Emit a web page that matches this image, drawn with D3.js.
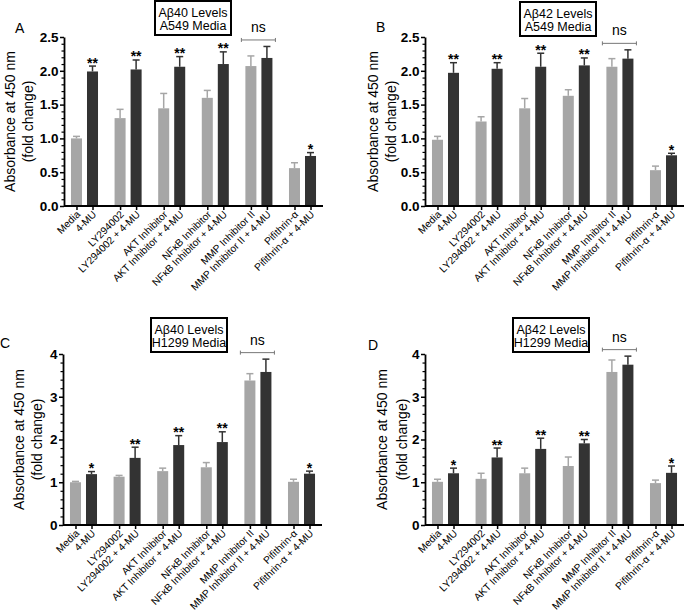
<!DOCTYPE html>
<html><head><meta charset="utf-8">
<script src="https://cdn.jsdelivr.net/npm/d3@7"></script>
<style>body{margin:0;background:#fff}svg{display:block}text{font-family:"Liberation Sans",Arial,sans-serif}</style>
</head><body>
<script>
// ---------- data ----------
const groups = ["Media","LY294002","AKT Inhibitor","NFκB Inhibitor","MMP Inhibitor II","Pifithrin-α"];
const darkLabels = ["4-MU","LY294002 + 4-MU","AKT Inhibitor + 4-MU","NFκB Inhibitor + 4-MU","MMP Inhibitor II + 4-MU","Pifithrin-α + 4-MU"];

const A_gray = [1.00,1.30,1.445,1.60,2.07,0.56];
const A_grayErr = [0.03,0.13,0.22,0.11,0.15,0.08];
const A_dark = [1.99,2.02,2.06,2.10,2.19,0.74];
const A_darkErr = [0.08,0.14,0.15,0.18,0.17,0.05];
const A_sig = ["**","**","**","**","","*"];

const B_gray = [0.98,1.25,1.445,1.63,2.06,0.53];
const B_grayErr = [0.05,0.07,0.145,0.09,0.12,0.06];
const B_dark = [1.97,2.03,2.06,2.08,2.18,0.75];
const B_darkErr = [0.15,0.09,0.20,0.11,0.13,0.03];
const B_sig = ["**","**","**","**","","*"];

const C_gray = [1.00,1.13,1.26,1.35,3.38,1.01];
const C_grayErr = [0.02,0.03,0.07,0.11,0.16,0.06];
const C_dark = [1.19,1.57,1.87,1.94,3.58,1.20];
const C_darkErr = [0.06,0.25,0.22,0.24,0.30,0.06];
const C_sig = ["*","**","**","**","","*"];

const D_gray = [1.01,1.08,1.21,1.38,3.58,0.98];
const D_grayErr = [0.06,0.13,0.12,0.21,0.28,0.07];
const D_dark = [1.21,1.58,1.78,1.91,3.75,1.22];
const D_darkErr = [0.12,0.22,0.25,0.09,0.20,0.16];
const D_sig = ["*","**","**","**","","*"];

const ticksAB = [0,0.5,1.0,1.5,2.0,2.5];
const ticksCD = [0,1,2,3,4];
const nsGroup = "MMP Inhibitor II";
const yTitle = ["Absorbance at 450 nm","(fold change)"];

const panels = [
  {letter:"A", title:["Aβ40 Levels","A549 Media"], gray:A_gray, grayErr:A_grayErr, dark:A_dark, darkErr:A_darkErr, sig:A_sig,
   ticks:ticksAB, minor:0.1, fmt:".1f", x0:64, y0:206, yTop:37, letterX:15, letterY:33, boxX:155, boxY:1, yl1:54, yl2:36},
  {letter:"B", title:["Aβ42 Levels","A549 Media"], gray:B_gray, grayErr:B_grayErr, dark:B_dark, darkErr:B_darkErr, sig:B_sig,
   ticks:ticksAB, minor:0.1, fmt:".1f", x0:425, y0:206, yTop:37, letterX:376, letterY:32, boxX:520, boxY:2, yl1:52, yl2:34},
  {letter:"C", title:["Aβ40 Levels","H1299 Media"], gray:C_gray, grayErr:C_grayErr, dark:C_dark, darkErr:C_darkErr, sig:C_sig,
   ticks:ticksCD, minor:0.2, fmt:"d", x0:63, y0:525, yTop:354, letterX:0, letterY:348, boxX:151, boxY:318, yl1:44, yl2:26},
  {letter:"D", title:["Aβ42 Levels","H1299 Media"], gray:D_gray, grayErr:D_grayErr, dark:D_dark, darkErr:D_darkErr, sig:D_sig,
   ticks:ticksCD, minor:0.2, fmt:"d", x0:425, y0:525, yTop:354, letterX:368, letterY:350, boxX:513, boxY:318, yl1:43, yl2:23}
];

const GRAY = "#a6a6a6", DARK = "#333333";
const W = 259;

const svg = d3.select("body").append("svg").attr("width",685).attr("height",611);

function drawPanel(p){
  const g = svg.append("g");
  const ymax = p.ticks[p.ticks.length-1];
  const y = d3.scaleLinear().domain([0,ymax]).range([p.y0,p.yTop]);
  const xg = d3.scaleBand().domain(groups).range([p.x0, p.x0+W]).paddingInner(0.38).paddingOuter(0.16);
  const xs = d3.scaleBand().domain(["gray","dark"]).range([0, xg.bandwidth()]).paddingInner(0.3125);

  const bars = [];
  groups.forEach((grp,i)=>{
    bars.push({grp, kind:"gray", label:grp, v:p.gray[i], e:p.grayErr[i], sig:""});
    bars.push({grp, kind:"dark", label:darkLabels[i], v:p.dark[i], e:p.darkErr[i], sig:p.sig[i]});
  });
  const bx = d => xg(d.grp)+xs(d.kind);
  const bw = xs.bandwidth();
  const col = d => d.kind==="gray"?GRAY:DARK;

  // bars
  g.selectAll("rect.bar").data(bars).join("rect").attr("class","bar")
    .attr("x",bx).attr("width",bw).attr("y",d=>y(d.v)).attr("height",d=>y(0)-y(d.v)).attr("fill",col);
  // error bars
  g.selectAll("line.ev").data(bars).join("line").attr("class","ev")
    .attr("x1",d=>bx(d)+bw/2).attr("x2",d=>bx(d)+bw/2).attr("y1",d=>y(d.v)).attr("y2",d=>y(d.v+d.e))
    .attr("stroke",col).attr("stroke-width",1.5);
  g.selectAll("line.ec").data(bars).join("line").attr("class","ec")
    .attr("x1",d=>bx(d)+bw/2-3.5).attr("x2",d=>bx(d)+bw/2+3.5).attr("y1",d=>y(d.v+d.e)).attr("y2",d=>y(d.v+d.e))
    .attr("stroke",col).attr("stroke-width",1.5);
  // significance stars
  g.selectAll("text.sig").data(bars.filter(d=>d.sig)).join("text").attr("class","sig")
    .attr("x",d=>bx(d)+bw/2).attr("y",d=>y(d.v+d.e)+1.5).attr("text-anchor","middle")
    .attr("font-size",14).attr("font-weight","bold").text(d=>d.sig);

  // ns bracket
  const nsBars = bars.filter(d=>d.grp===nsGroup);
  const top = d3.min(nsBars, d=>y(d.v+d.e)) - 6.5;
  const bl = xg(nsGroup)-4, br = xg(nsGroup)+xg.bandwidth()+3;
  g.append("line").attr("x1",bl).attr("x2",br).attr("y1",top).attr("y2",top).attr("stroke","#777").attr("stroke-width",1);
  [bl,br].forEach(xx=>g.append("line").attr("x1",xx).attr("x2",xx).attr("y1",top-2).attr("y2",top+2).attr("stroke","#777").attr("stroke-width",1));
  g.append("text").attr("x",(bl+br)/2).attr("y",top-8).attr("text-anchor","middle").attr("font-size",14).text("ns");

  // y axis minor
  const minorVals = d3.range(0, ymax+1e-9, p.minor).filter(v=>!p.ticks.some(t=>Math.abs(t-v)<1e-6));
  g.append("g").attr("transform",`translate(${p.x0},0)`)
    .call(d3.axisLeft(y).tickValues(minorVals).tickSize(2.5).tickFormat(""))
    .call(a=>a.select(".domain").remove())
    .call(a=>a.selectAll("line").attr("stroke-width",1.2));
  // y axis major
  g.append("g").attr("transform",`translate(${p.x0},0)`)
    .call(d3.axisLeft(y).tickValues(p.ticks).tickSize(4).tickSizeOuter(0).tickPadding(1.5).tickFormat(d3.format(p.fmt)))
    .call(a=>a.select(".domain").attr("stroke-width",1.8))
    .call(a=>a.selectAll("line").attr("stroke-width",1.5))
    .call(a=>a.selectAll("text").attr("font-size",13.5).attr("font-weight","bold").attr("font-family","Liberation Sans, Arial, sans-serif"));

  // x axis
  const xo = d3.scaleOrdinal(bars.map(d=>d.label), bars.map(d=>bx(d)+bw/2));
  g.append("line").attr("x1",p.x0).attr("x2",p.x0+W).attr("y1",p.y0).attr("y2",p.y0).attr("stroke","#000").attr("stroke-width",1.8);
  const xa = g.append("g").attr("transform",`translate(0,${p.y0})`)
    .call(d3.axisBottom(xo).tickSize(4).tickSizeOuter(0))
    .call(a=>a.select(".domain").remove())
    .call(a=>a.selectAll("line").attr("stroke-width",1.5));
  xa.selectAll("text").attr("font-size",10.2).attr("font-family","Liberation Sans, Arial, sans-serif")
    .attr("text-anchor","end").attr("dy",null).attr("y",null)
    .attr("transform","translate(4,9) rotate(-45)");

  // y title
  const yc = (p.y0+p.yTop)/2;
  g.append("text").attr("transform",`translate(${p.x0-p.yl1+5},${yc}) rotate(-90)`).attr("text-anchor","middle").attr("font-size",14).text(yTitle[0]);
  g.append("text").attr("transform",`translate(${p.x0-p.yl2+5},${yc}) rotate(-90)`).attr("text-anchor","middle").attr("font-size",14).text(yTitle[1]);

  // panel letter
  g.append("text").attr("x",p.letterX).attr("y",p.letterY).attr("font-size",14).text(p.letter);

  // title box
  g.append("rect").attr("x",p.boxX).attr("y",p.boxY).attr("width",76).attr("height",34)
    .attr("fill","#fff").attr("stroke","#000").attr("stroke-width",2);
  g.append("text").attr("x",p.boxX+38).attr("y",p.boxY+15.5).attr("text-anchor","middle").attr("font-size",12.5).text(p.title[0]);
  g.append("text").attr("x",p.boxX+38).attr("y",p.boxY+28.5).attr("text-anchor","middle").attr("font-size",12.5).text(p.title[1]);
}
panels.forEach(drawPanel);
</script>
</body></html>
